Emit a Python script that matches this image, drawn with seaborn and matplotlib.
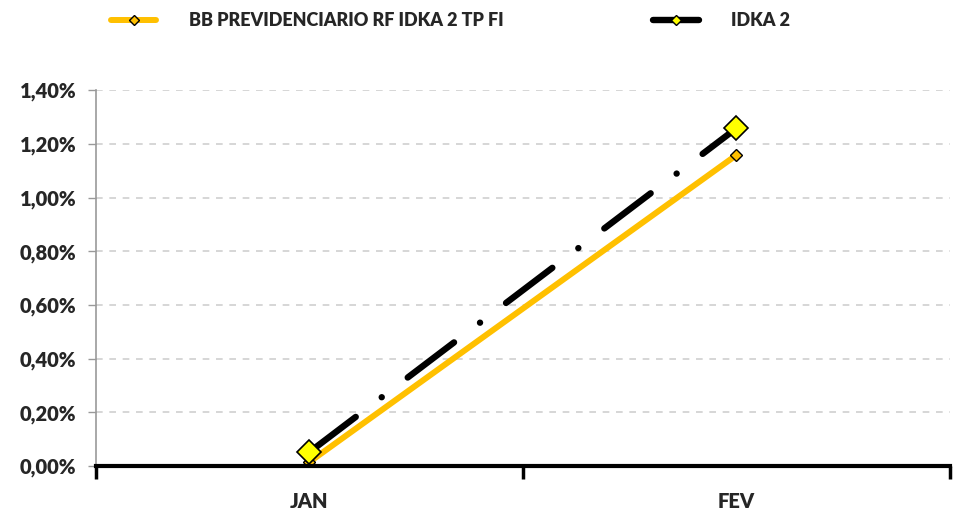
import pandas as pd
import matplotlib.pyplot as plt
import seaborn as sns
from matplotlib.lines import Line2D
from matplotlib.ticker import FuncFormatter

# Data
months = ["JAN", "FEV"]
fund_values = [0.015, 1.158]
idka_values = [0.052, 1.258]
fund_name = "BB PREVIDENCIARIO RF IDKA 2 TP FI"
idka_name = "IDKA 2"

df = pd.DataFrame({"month": months, "fund": fund_values, "idka": idka_values})
df["x"] = range(len(df))

sns.set_theme(style="white")
plt.rcParams['font.family'] = ['Lato', 'DejaVu Sans']
plt.rcParams['font.weight'] = 'heavy'

fig = plt.figure(figsize=(9.55, 5.12), dpi=100)
ax = fig.add_axes([0.1005, 0.0898, 0.894, 0.734])

sns.lineplot(data=df, x="x", y="fund", ax=ax, color="#FFC000", linewidth=4.3,
             marker="D", markersize=6, markerfacecolor="#FFC000",
             markeredgecolor="black", markeredgewidth=1.0,
             solid_capstyle="round", zorder=3)
sns.lineplot(data=df, x="x", y="idka", ax=ax, color="black", linewidth=4.6,
             marker="D", markersize=12, markerfacecolor="#FFFF00",
             markeredgecolor="black", markeredgewidth=1.2,
             zorder=4)
ax.lines[1].set_dashes([9.1, 5.1, 0.01, 5.1])
ax.lines[1].set_dash_capstyle("round")

ax.set_xlim(-0.5, 1.5)
ax.set_ylim(0, 1.4)
ax.set_yticks([0, 0.2, 0.4, 0.6, 0.8, 1.0, 1.2, 1.4])
ax.yaxis.set_major_formatter(FuncFormatter(lambda v, p: f"{v:.2f}%".replace(".", ",")))
ax.set_xticks([0, 1])
ax.set_xticklabels(months)
ax.set_xticks([-0.5, 0.5, 1.5], minor=True)
ax.tick_params(axis="x", which="major", length=0, pad=19, labelsize=14.5)
ax.tick_params(axis="x", which="minor", length=9, width=2.5, color="black", direction="out", bottom=True)
ax.tick_params(axis="y", length=6, width=1, color="#999999", left=True, labelsize=14.5, pad=8)
ax.set_xlabel("")
ax.set_ylabel("")
for lab in ax.get_xticklabels() + ax.get_yticklabels():
    lab.set_fontweight("heavy")

ax.yaxis.grid(True, linestyle=(0, (4, 4)), color="#D0D0D0", linewidth=1.2)
ax.xaxis.grid(False)
for s in ["top", "right"]:
    ax.spines[s].set_visible(False)
ax.spines["left"].set_color("#999999")
ax.spines["left"].set_linewidth(1.2)
ax.spines["bottom"].set_color("black")
ax.spines["bottom"].set_linewidth(3)
ax.spines["bottom"].set_zorder(5)

# legend handles: solid line with small diamond
handles = [
    Line2D([], [], color="#FFC000", linewidth=4.3, solid_capstyle="round", marker="D",
           markersize=5, markerfacecolor="#FFC000", markeredgecolor="black", markeredgewidth=1.0),
    Line2D([], [], color="black", linewidth=4.6, solid_capstyle="round", marker="D",
           markersize=5, markerfacecolor="#FFFF00", markeredgecolor="black", markeredgewidth=1.0),
]
fig.legend(handles, [fund_name, idka_name], loc="upper left", bbox_to_anchor=(0.0995, 1.008), ncol=2,
           frameon=False, handlelength=2.5, columnspacing=8.3, handletextpad=1.8,
           prop={"weight": "heavy", "size": 13})

fig.savefig("out.png", dpi=100)
